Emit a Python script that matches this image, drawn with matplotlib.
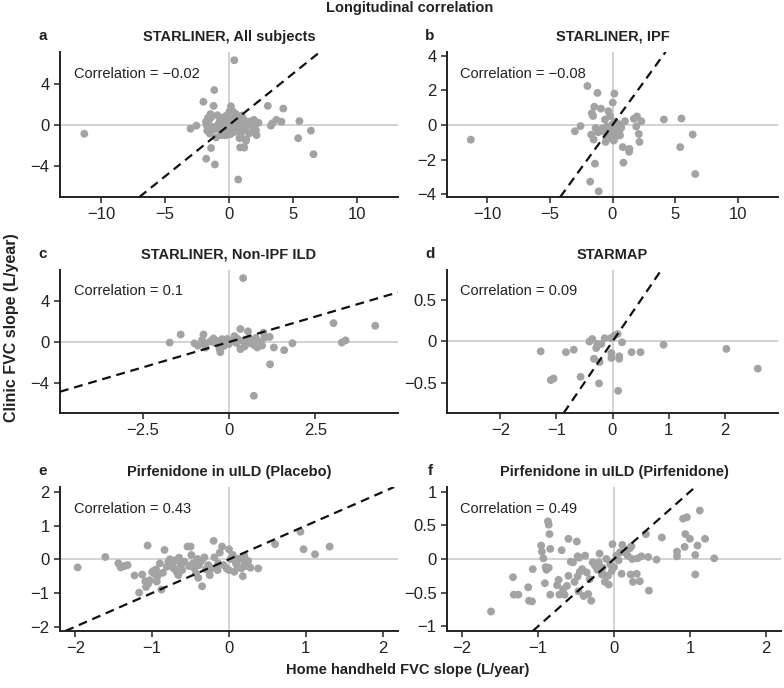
import matplotlib.pyplot as plt
from matplotlib.ticker import FuncFormatter

plt.rcParams['font.family'] = ['Liberation Sans', 'DejaVu Sans']

# STARLINER, IPF subjects (home slope, clinic slope)
ipf_x = [-11.3, -2.0, -1.2, 0.15, 0.02, -1.45, -0.92, -1.65, -1.55, -0.32, -0.2, -0.6,
         -2.55, -3.0, -1.7, -1.5, -1.35, -1.15, -0.75, -0.45, -0.55, -0.5, -0.3, -0.15,
         0.0, 0.15, 0.35, 0.5, 0.55, 0.6, 0.3, -0.05, 0.2, -0.2, 1.0, 0.82, 0.87, 1.35,
         1.32, 1.7, 1.95, 1.9, 2.3, 2.1, 2.15, -1.4, -1.78, -1.1, 4.1, 5.5, 5.4, 6.4,
         6.6, -0.8, 0.7, -0.35, 0.1]
ipf_y = [-0.85, 2.26, 1.86, 1.82, 1.3, 1.06, 0.95, 0.68, 0.52, 0.8, 0.52, 0.32,
         -0.06, -0.36, -0.56, -0.84, -0.18, -0.42, -0.36, -0.08, -0.98, -0.7, -0.45, -0.2,
         0.05, -0.35, -0.1, 0.05, -0.35, -0.6, -0.65, -0.55, 0.2, -0.75, 0.22, -1.28, -2.18, -1.38,
         -1.55, 0.36, 0.5, -0.08, 0.22, -0.52, -0.98, -2.24, -3.28, -3.84, 0.32, 0.38, -1.28, -0.55,
         -2.84, -0.2, -0.15, -0.3, -0.9]

# STARLINER, non-IPF ILD subjects
nonipf_x = [0.41, -1.72, -1.4, -1.0, -0.9, -0.74, -0.78, -0.72, -0.68, -0.45, -0.4, -0.33,
            -0.27, -0.25, -0.2, -0.12, -0.05, 0.0, 0.08, 0.16, 0.22, 0.33, 0.55, 0.33,
            0.4, 0.48, 0.55, 0.6, 0.68, 0.72, 0.82, 0.9, 0.96, 1.0, 1.03, 1.18, 1.19,
            1.3, 1.6, 1.84, 3.03, 3.27, 3.38, 4.24, 0.72, -0.55, 0.25, -0.15, 0.45, 0.78]
nonipf_y = [6.3, -0.06, 0.74, -0.13, -0.35, 0.74, 0.2, -0.13, -0.55, 0.35, -0.1, 0.1,
            -0.7, -1.0, 0.28, -0.05, 0.3, -0.2, 0.1, 0.58, -0.1, 1.28, 1.05, -0.7,
            0.1, -0.2, 0.3, -0.1, 0.15, -0.3, -0.54, 0.0, -0.35, 0.92, 0.42, 0.5, -2.2,
            -0.54, -0.8, -0.12, 1.86, -0.06, 0.16, 1.6, -5.3, 0.05, 0.3, -0.4, -0.45, 0.4]

# subjects shown only in the all-subjects panel
other_x = [-1.15, -1.0, -0.6, 0.5, 1.1, 1.5, -0.2, 2.0, 3.7, -1.8, 0.9, 1.3]
other_y = [3.4, -1.2, 0.6, 0.7, -0.4, 0.1, 0.9, -0.3, 0.5, 0.3, -1.0, 0.3]

all_x = ipf_x + nonipf_x + other_x
all_y = ipf_y + nonipf_y + other_y

# STARMAP
starmap_x = [-1.28, -0.83, -0.69, -1.1, -1.05, -0.57, -0.41, -0.36, -0.29, -0.27, -0.2, -0.14,
             -0.03, 0.03, 0.09, 0.17, -0.33, -0.23, -0.02, -0.02, 0.12, 0.12, -0.24, 0.1,
             0.34, 0.5, 0.91, 2.03, 2.59]
starmap_y = [-0.12, -0.13, -0.1, -0.47, -0.45, -0.43, 0.0, 0.03, -0.08, -0.03, -0.03, 0.04,
             0.04, 0.07, 0.09, -0.01, -0.21, -0.25, -0.14, -0.2, -0.18, -0.21, -0.51, -0.6,
             -0.13, -0.13, -0.04, -0.09, -0.33]

# Pirfenidone in uILD, placebo arm
placebo_x = [-1.97, -1.61, -1.44, -1.41, -1.32, -1.23, -1.13, -1.17, -1.06, -1.09, -1.05, -1.08,
             -1.03, -1.0, -0.98, -0.96, -0.93, -0.95, -0.88, -0.94, -0.84, -0.81, -0.79, -0.77,
             -0.74, -0.72, -0.7, -0.68, -0.66, -0.63, -0.61, -0.58, -0.54, -0.5, -0.49, -0.47,
             -0.45, -0.43, -0.41, -0.39, -0.4, -0.35, -0.32, -0.27, -0.25, -0.23, -0.2, -0.19,
             -0.17, -0.15, -0.14, -0.09, -0.07, -0.03, 0.0, 0.02, 0.05, 0.07, 0.09, 0.11,
             0.13, 0.16, 0.18, 0.2, 0.22, 0.25, 0.28, 0.38, 0.6, 0.93, 0.97, 1.12,
             1.31, -0.6, -0.52, -0.36, -0.3, -0.12, 0.0, -0.86, -0.9, -1.36, 0.2, -0.65]
placebo_y = [-0.24, 0.07, -0.12, -0.24, -0.17, -0.48, -0.45, -0.99, 0.41, -0.65, -0.72, -0.82,
             -0.62, -0.38, -0.34, -0.44, -0.5, -0.3, -0.9, -0.66, 0.28, -0.22, -0.07, 0.0,
             -0.14, -0.27, -0.03, -0.37, -0.47, -0.17, -0.32, -0.07, 0.38, 0.38, 0.13, -0.12,
             -0.27, -0.42, 0.01, -0.17, -0.55, -0.8, 0.06, -0.17, -0.47, -0.27, 0.55, 0.06,
             -0.27, -0.32, -0.12, 0.38, -0.17, -0.27, -0.32, 0.01, 0.13, -0.37, -0.12, -0.22,
             0.02, -0.27, -0.5, -0.1, -0.2, -0.05, -0.25, -0.27, 0.45, 0.82, 0.3, 0.15,
             0.38, -0.1, -0.2, -0.05, -0.3, 0.2, 0.3, -0.4, -0.12, -0.2, 0.1, 0.05]

# Pirfenidone in uILD, pirfenidone arm
pirf_x = [-1.62, -1.33, -1.32, -1.26, -1.13, -1.12, -1.08, -1.07, -0.96, -0.95, -0.93, -0.9,
          -0.89, -0.86, -0.87, -0.86, -0.85, -0.84, -0.91, -0.84, -0.69, -0.73, -0.75, -0.72,
          -0.67, -0.62, -0.65, -0.6, -0.57, -0.54, -0.49, -0.48, -0.46, -0.47, -0.45, -0.48,
          -0.52, -0.42, -0.4, -0.34, -0.3, -0.28, -0.25, -0.22, -0.2, -0.15, -0.16, -0.12,
          -0.07, -0.14, -0.02, -0.1, -0.05, 0.0, 0.03, 0.06, 0.08, 0.11, 0.14, -0.08,
          -0.03, 0.1, 0.22, 0.25, 0.3, 0.34, 0.23, 0.21, 0.24, 0.31, 0.36, 0.42,
          0.46, 0.45, 0.56, 0.63, 0.83, 0.83, 0.93, 0.91, 0.96, 0.94, 1.0, 1.07,
          1.07, 1.1, 1.13, 1.2, 1.32, -0.36, -0.32, -0.38, -0.19, -0.6, 0.18]
pirf_y = [-0.78, -0.27, -0.53, -0.53, -0.42, -0.62, -0.63, -0.15, 0.2, 0.11, 0.01, -0.12,
          -0.16, -0.13, 0.56, 0.51, 0.37, 0.15, -0.36, -0.53, 0.13, -0.31, -0.39, -0.53,
          -0.45, -0.4, -0.53, 0.3, -0.04, -0.05, 0.26, 0.04, 0.02, -0.48, -0.19, -0.26,
          -0.34, -0.15, -0.55, -0.52, -0.62, -0.05, -0.1, -0.16, -0.05, -0.13, -0.23, -0.34,
          -0.38, -0.23, 0.22, 0.0, -0.08, -0.12, 0.05, -0.02, 0.1, 0.21, 0.1, -0.25,
          -0.18, -0.22, -0.23, -0.34, -0.22, -0.33, 0.19, 0.16, 0.0, 0.01, 0.04, 0.37,
          -0.47, 0.03, -0.01, 0.32, 0.11, 0.04, 0.18, 0.6, 0.62, 0.37, 0.3, 0.06,
          -0.23, 0.2, 0.72, 0.3, 0.01, -0.2, -0.3, 0.05, 0.08, -0.25, 0.05]

panels = [
    ("a", "STARLINER, All subjects", all_x, all_y, "Correlation = \u22120.02",
     (-13.2, 13.2), (-7.0, 7.1), [-10, -5, 0, 5, 10], [-4, 0, 4], (60, 52, 398, 197)),
    ("b", "STARLINER, IPF", ipf_x, ipf_y, "Correlation = \u22120.08",
     (-13.2, 13.2), (-4.17, 4.23), [-10, -5, 0, 5, 10], [-4, -2, 0, 2, 4], (447, 52, 778, 197)),
    ("c", "STARLINER, Non-IPF ILD", nonipf_x, nonipf_y, "Correlation = 0.1",
     (-4.9, 4.9), (-7.0, 7.1), [-2.5, 0, 2.5], [-4, 0, 4], (60, 270, 398, 413)),
    ("d", "STARMAP", starmap_x, starmap_y, "Correlation = 0.09",
     (-2.95, 2.95), (-0.87, 0.87), [-2, -1, 0, 1, 2], [-0.5, 0, 0.5], (447, 270, 778, 413)),
    ("e", "Pirfenidone in uILD (Placebo)", placebo_x, placebo_y, "Correlation = 0.43",
     (-2.2, 2.2), (-2.13, 2.15), [-2, -1, 0, 1, 2], [-2, -1, 0, 1, 2], (60, 487, 398, 631)),
    ("f", "Pirfenidone in uILD (Pirfenidone)", pirf_x, pirf_y, "Correlation = 0.49",
     (-2.2, 2.2), (-1.07, 1.07), [-2, -1, 0, 1, 2], [-1, -0.5, 0, 0.5, 1], (447, 487, 781, 631)),
]

W, H = 784, 688
fig = plt.figure(figsize=(W / 100, H / 100), dpi=100)

fmt = FuncFormatter(lambda v, pos: f"{v:g}".replace("-", "\u2212"))

for letter, title, xs, ys, corr, xlim, ylim, xticks, yticks, (l, t, r, b) in panels:
    ax = fig.add_axes([l / W, 1 - b / H, (r - l) / W, (b - t) / H])
    ax.axhline(0, color="#cfcfcf", lw=1.3, zorder=1)
    ax.axvline(0, color="#cfcfcf", lw=1.3, zorder=1)
    ax.scatter(xs, ys, s=32, color="#a3a3a3", edgecolors="none", zorder=2)
    ax.axline((0, 0), slope=1, color="#111111", lw=1.6, dashes=(4, 2.6), zorder=3)
    ax.set_xlim(xlim)
    ax.set_ylim(ylim)
    ax.set_xticks(xticks)
    ax.set_yticks(yticks)
    ax.xaxis.set_major_formatter(fmt)
    ax.yaxis.set_major_formatter(fmt)
    ax.tick_params(labelsize=12, length=4.5, width=1.1, pad=3, color="#222222",
                   labelcolor="#222222")
    for side in ["top", "right"]:
        ax.spines[side].set_visible(False)
    for side in ["left", "bottom"]:
        ax.spines[side].set_linewidth(1.4)
        ax.spines[side].set_color("#222222")
    ax.set_title(title, fontsize=10.5, fontweight="bold", pad=8, color="#222222")
    ax.text(0.04, 0.85, corr, transform=ax.transAxes, fontsize=10.5, va="center",
            color="#222222")
    fig.text((l - 17) / W, 1 - (t - 16) / H, letter, fontsize=11, fontweight="bold",
             ha="center", va="center", color="#222222")

fig.text(410 / W, 1 - 8 / H, "Longitudinal correlation", fontsize=10.5, fontweight="bold",
         ha="center", va="center", color="#222222")
fig.text(408 / W, 1 - 670 / H, "Home handheld FVC slope (L/year)", fontsize=10.5,
         fontweight="bold", ha="center", va="center", color="#222222")
fig.text(12 / W, 1 - 328 / H, "Clinic FVC slope (L/year)", fontsize=11.5, fontweight="bold",
         ha="center", va="center", rotation=90, color="#222222")

fig.savefig("out.png", dpi=100)
